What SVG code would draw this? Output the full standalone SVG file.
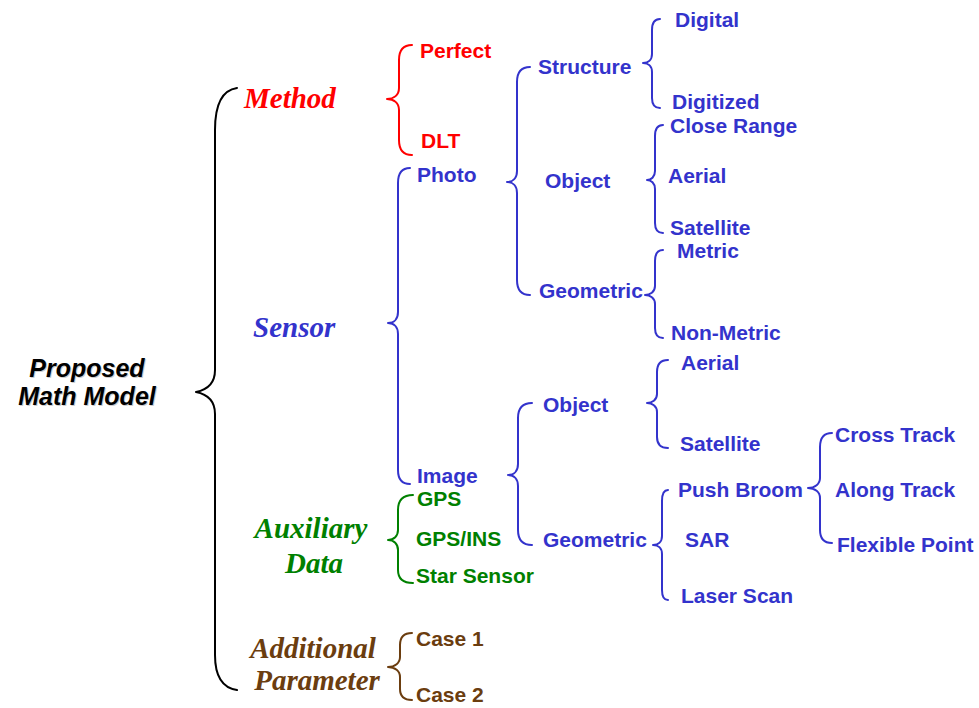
<svg xmlns="http://www.w3.org/2000/svg" width="979" height="708" viewBox="0 0 979 708">
<style>
.s{font-family:"Liberation Sans",Arial,sans-serif;font-weight:bold;font-size:21px}
.t{font-family:"Liberation Serif","Times New Roman",serif;font-weight:bold;font-style:italic;font-size:29px}
.root{font-family:"Liberation Sans",Arial,sans-serif;font-weight:bold;font-style:italic;font-size:25px}
.b{fill:none;stroke-width:2;stroke-linecap:round;stroke-linejoin:round}
.red{fill:#ff0000}.blue{fill:#3333cc}.green{fill:#008000}.brown{fill:#6b3d0f}.black{fill:#000}
.kred{stroke:#ff0000}.kblue{stroke:#3333cc}.kgreen{stroke:#008000}.kbrown{stroke:#6b3d0f}.kblack{stroke:#000}
</style>
<rect width="979" height="708" fill="#fff"/>
<g id="connectors">
<path class="b kblack" d="M237 88 C223 90 215 104 215 130 L215 370 C215 384 206 390 196 392 C206 394 215 400 215 414 L215 655 C215 678 223 688 237 690"/>
<path class="b kred" d="M412 45 C404 45 399 50 399 60 L399 88 C399 95 394 99 387 99 C394 99 399 103 399 110 L399 140 C399 150 404 155 412 155"/>
<path class="b kblue" d="M410 168 C402 168 398 173 398 183 L398 312 C398 319 394 323 388 323 C394 323 398 327 398 334 L398 470 C398 480 402 484 410 484"/>
<path class="b kgreen" d="M413 495 C403 495 398 500 398 510 L398 530 C398 536 394 540 388 540 C394 540 398 544 398 550 L398 570 C398 579 403 583 413 583"/>
<path class="b kbrown" d="M412 633 C404 633 400 637 400 645 L400 657 C400 663 395 667 388 667 C395 667 400 671 400 677 L400 689 C400 697 404 700 412 700"/>
<path class="b kblue" d="M530 67 C521 67 517 72 517 82 L517 171 C517 178 513 182 507 182 C513 182 517 186 517 193 L517 280 C517 290 521 295 530 295"/>
<path class="b kblue" d="M532 403 C522 403 518 408 518 418 L518 464 C518 471 514 475 508 475 C514 475 518 479 518 486 L518 530 C518 540 522 545 532 545"/>
<path class="b kblue" d="M660 19 C655 19 652 23 652 30 L652 54 C652 60 648 63 643 63 C648 63 652 66 652 72 L652 98 C652 105 655 108 660 108"/>
<path class="b kblue" d="M663 125 C658 125 655 129 655 136 L655 171 C655 177 651 180 647 180 C651 180 655 183 655 189 L655 223 C655 230 658 233 663 233"/>
<path class="b kblue" d="M663 250 C658 250 655 254 655 261 L655 286 C655 292 650 295 645 295 C650 295 655 298 655 304 L655 328 C655 335 658 338 663 338"/>
<path class="b kblue" d="M668 360 C661 360 657 364 657 372 L657 394 C657 400 652 403 647 403 C652 403 657 406 657 412 L657 437 C657 445 661 448 668 448"/>
<path class="b kblue" d="M668 490 C664 490 662 494 662 501 L662 536 C662 542 658 545 653 545 C658 545 662 548 662 554 L662 590 C662 597 664 600 668 600"/>
<path class="b kblue" d="M832 433 C824 433 820 438 820 447 L820 478 C820 484 815 488 808 488 C815 488 820 492 820 498 L820 530 C820 539 824 543 832 543"/>
</g>
<g id="root">
<text class="root" x="87" y="377" text-anchor="middle" fill="#ccc" dx="1" dy="1">Proposed</text>
<text class="root" x="87" y="405" text-anchor="middle" fill="#ccc" dx="1" dy="1">Math Model</text>
<text class="root black" x="87" y="377" text-anchor="middle">Proposed</text>
<text class="root black" x="87" y="405" text-anchor="middle">Math Model</text>
</g>
<g id="method"><text class="t red" x="244" y="108">Method</text></g>
<g id="sensor"><text class="t blue" x="253" y="337">Sensor</text></g>
<g id="auxiliary"><text class="t green" x="311" y="538" text-anchor="middle">Auxiliary</text><text class="t green" x="314" y="573" text-anchor="middle">Data</text></g>
<g id="additional"><text class="t brown" x="313" y="658" text-anchor="middle">Additional</text><text class="t brown" x="317" y="690" text-anchor="middle">Parameter</text></g>
<g id="perfect"><text class="s red" x="420" y="58">Perfect</text></g>
<g id="dlt"><text class="s red" x="421" y="148">DLT</text></g>
<g id="photo"><text class="s blue" x="417" y="182">Photo</text></g>
<g id="image"><text class="s blue" x="417" y="483">Image</text></g>
<g id="gps"><text class="s green" x="417" y="506">GPS</text></g>
<g id="gpsins"><text class="s green" x="416" y="546">GPS/INS</text></g>
<g id="star"><text class="s green" x="416" y="583">Star Sensor</text></g>
<g id="case1"><text class="s brown" x="416" y="646">Case 1</text></g>
<g id="case2"><text class="s brown" x="416" y="702">Case 2</text></g>
<g id="structure"><text class="s blue" x="538" y="74">Structure</text></g>
<g id="object1"><text class="s blue" x="545" y="188">Object</text></g>
<g id="geometric1"><text class="s blue" x="539" y="298">Geometric</text></g>
<g id="object2"><text class="s blue" x="543" y="412">Object</text></g>
<g id="geometric2"><text class="s blue" x="543" y="547">Geometric</text></g>
<g id="digital"><text class="s blue" x="675" y="27">Digital</text></g>
<g id="digitized"><text class="s blue" x="672" y="109">Digitized</text></g>
<g id="closerange"><text class="s blue" x="670" y="133">Close Range</text></g>
<g id="aerial1"><text class="s blue" x="668" y="183">Aerial</text></g>
<g id="satellite1"><text class="s blue" x="670" y="235">Satellite</text></g>
<g id="metric"><text class="s blue" x="677" y="258">Metric</text></g>
<g id="nonmetric"><text class="s blue" x="671" y="340">Non-Metric</text></g>
<g id="aerial2"><text class="s blue" x="681" y="370">Aerial</text></g>
<g id="satellite2"><text class="s blue" x="680" y="451">Satellite</text></g>
<g id="pushbroom"><text class="s blue" x="678" y="497">Push Broom</text></g>
<g id="sar"><text class="s blue" x="685" y="547">SAR</text></g>
<g id="laserscan"><text class="s blue" x="681" y="603">Laser Scan</text></g>
<g id="crosstrack"><text class="s blue" x="835" y="442">Cross Track</text></g>
<g id="alongtrack"><text class="s blue" x="835" y="497">Along Track</text></g>
<g id="flexiblepoint"><text class="s blue" x="837" y="552">Flexible Point</text></g>
</svg>
